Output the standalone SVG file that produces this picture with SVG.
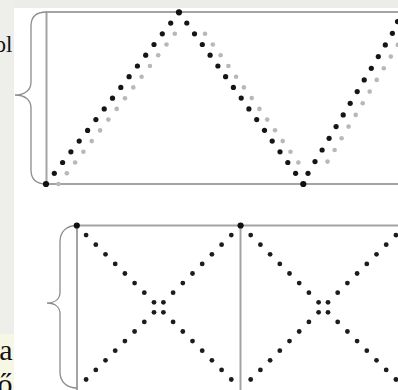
<svg xmlns="http://www.w3.org/2000/svg" width="398" height="390" viewBox="0 0 398 390">
<style>
.frame{fill:none;stroke:#a3a3a3;stroke-width:2}
.brace{fill:none;stroke:#8c8c8c;stroke-width:1.3}
.lbl{font-family:"Liberation Serif","DejaVu Serif",serif;fill:#111;text-anchor:end}
</style>
<defs>
<circle id="b" r="2.6" fill="#151515"/>
<circle id="B" r="3.1" fill="#111"/>
<circle id="g" r="2.3" fill="#b8b8b8"/>
<circle id="d" r="2.4" fill="#1c1c1c"/>
</defs>
<rect width="398" height="390" fill="#fff"/>
<rect x="0" y="0" width="398" height="8" fill="#ececE8"/>
<rect x="0" y="0" width="14" height="390" fill="#eeeeea"/>
<rect x="0" y="334" width="14" height="56" fill="#f7f7e6"/>
<g id="labels">
<text class="lbl" x="12.5" y="52" style="font-size:23px">ol</text>
<text class="lbl" x="12.5" y="360" style="font-size:30px">a</text>
<text class="lbl" x="12.5" y="394" style="font-size:30px">ő</text>
</g>
<g id="top-panel">
<path class="frame" d="M398,12H46.5V184H398"/>
<path class="brace" d="M46.5,12C37,12 31,16 31,26V82C31,90 25,95 15,95C25,95 31,100 31,108V170C31,180 37,184 46.5,184"/>
<g id="shadow-dots">
<use href="#g" x="58.5" y="184"/><use href="#g" x="66.8" y="173.3"/><use href="#g" x="75.1" y="162.5"/><use href="#g" x="83.4" y="151.8"/><use href="#g" x="91.7" y="141.1"/><use href="#g" x="100.1" y="130.4"/><use href="#g" x="108.4" y="119.6"/><use href="#g" x="116.7" y="108.9"/><use href="#g" x="125" y="98.2"/><use href="#g" x="133.3" y="87.4"/><use href="#g" x="141.6" y="76.7"/><use href="#g" x="149.9" y="66"/><use href="#g" x="158.2" y="55.2"/><use href="#g" x="166.5" y="44.5"/><use href="#g" x="174.8" y="33.8"/>
<use href="#g" x="205" y="33.8"/><use href="#g" x="212.8" y="44.5"/><use href="#g" x="220.6" y="55.2"/><use href="#g" x="228.4" y="66"/><use href="#g" x="236.1" y="76.7"/><use href="#g" x="243.9" y="87.4"/><use href="#g" x="251.7" y="98.1"/><use href="#g" x="259.4" y="108.9"/><use href="#g" x="267.2" y="119.6"/><use href="#g" x="275" y="130.3"/><use href="#g" x="282.7" y="141.1"/><use href="#g" x="290.5" y="151.8"/><use href="#g" x="298.3" y="162.5"/>
<use href="#g" x="327.5" y="161.6"/><use href="#g" x="334.6" y="150"/><use href="#g" x="341.6" y="138.3"/><use href="#g" x="348.6" y="126.6"/><use href="#g" x="355.7" y="114.9"/><use href="#g" x="362.7" y="103.3"/><use href="#g" x="369.7" y="91.6"/><use href="#g" x="376.7" y="79.9"/><use href="#g" x="383.8" y="68.3"/><use href="#g" x="390.8" y="56.6"/><use href="#g" x="397.8" y="44.9"/>
</g>
<g id="zigzag-dots">
<use href="#B" x="46" y="184"/><use href="#b" x="54.3" y="173.3"/><use href="#b" x="62.6" y="162.5"/><use href="#b" x="70.9" y="151.8"/><use href="#b" x="79.2" y="141.1"/><use href="#b" x="87.6" y="130.4"/><use href="#b" x="95.9" y="119.6"/><use href="#b" x="104.2" y="108.9"/><use href="#b" x="112.5" y="98.2"/><use href="#b" x="120.8" y="87.4"/><use href="#b" x="129.1" y="76.7"/><use href="#b" x="137.4" y="66"/><use href="#b" x="145.7" y="55.2"/><use href="#b" x="154" y="44.5"/><use href="#b" x="162.3" y="33.8"/><use href="#b" x="170.7" y="23.1"/><use href="#B" x="179" y="12.3"/>
<use href="#b" x="186.8" y="23"/><use href="#b" x="194.5" y="33.8"/><use href="#b" x="202.3" y="44.5"/><use href="#b" x="210.1" y="55.2"/><use href="#b" x="217.9" y="66"/><use href="#b" x="225.6" y="76.7"/><use href="#b" x="233.4" y="87.4"/><use href="#b" x="241.2" y="98.1"/><use href="#b" x="248.9" y="108.9"/><use href="#b" x="256.7" y="119.6"/><use href="#b" x="264.5" y="130.3"/><use href="#b" x="272.2" y="141.1"/><use href="#b" x="280" y="151.8"/><use href="#b" x="287.8" y="162.5"/><use href="#b" x="295.6" y="173.3"/><use href="#B" x="303.3" y="184"/>
<use href="#b" x="308" y="173.3"/><use href="#b" x="315" y="161.6"/><use href="#b" x="322.1" y="150"/><use href="#b" x="329.1" y="138.3"/><use href="#b" x="336.1" y="126.6"/><use href="#b" x="343.2" y="114.9"/><use href="#b" x="350.2" y="103.3"/><use href="#b" x="357.2" y="91.6"/><use href="#b" x="364.2" y="79.9"/><use href="#b" x="371.3" y="68.3"/><use href="#b" x="378.3" y="56.6"/><use href="#b" x="385.3" y="44.9"/><use href="#b" x="392.4" y="33.3"/><use href="#b" x="397.5" y="21.6"/>
</g>
</g>
<g id="bottom-panel">
<path class="frame" d="M398,225.5H77V390M240.5,225.5V390"/>
<path class="brace" d="M77,225.5C67,225.5 60,231 60,242V292C60,299 55,303 47,303C55,303 60,307 60,314V372C60,382 67,388 77,388"/>
<g id="cell-1">
<use href="#d" x="154" y="302.3"/><use href="#d" x="144.3" y="292.7"/><use href="#d" x="134.6" y="283.1"/><use href="#d" x="124.9" y="273.5"/><use href="#d" x="115.2" y="263.9"/><use href="#d" x="105.5" y="254.3"/><use href="#d" x="95.8" y="244.7"/><use href="#d" x="86.1" y="235.1"/><use href="#B" x="76.8" y="225.5"/>
<use href="#d" x="163.4" y="302.3"/><use href="#d" x="173.1" y="292.7"/><use href="#d" x="182.8" y="283.1"/><use href="#d" x="192.5" y="273.5"/><use href="#d" x="202.2" y="263.9"/><use href="#d" x="211.9" y="254.3"/><use href="#d" x="221.6" y="244.7"/><use href="#d" x="231.3" y="235.1"/><use href="#B" x="240.6" y="225.5"/>
<use href="#d" x="154" y="312.3"/><use href="#d" x="144.3" y="321.9"/><use href="#d" x="134.6" y="331.5"/><use href="#d" x="124.9" y="341.1"/><use href="#d" x="115.2" y="350.7"/><use href="#d" x="105.5" y="360.3"/><use href="#d" x="95.8" y="369.9"/><use href="#d" x="86.1" y="379.5"/>
<use href="#d" x="163.4" y="312.3"/><use href="#d" x="173.1" y="321.9"/><use href="#d" x="182.8" y="331.5"/><use href="#d" x="192.5" y="341.1"/><use href="#d" x="202.2" y="350.7"/><use href="#d" x="211.9" y="360.3"/><use href="#d" x="221.6" y="369.9"/><use href="#d" x="231.3" y="379.5"/>
</g>
<g id="cell-2">
<use href="#d" x="318.6" y="302.3"/><use href="#d" x="308.9" y="292.7"/><use href="#d" x="299.2" y="283.1"/><use href="#d" x="289.5" y="273.5"/><use href="#d" x="279.8" y="263.9"/><use href="#d" x="270.1" y="254.3"/><use href="#d" x="260.4" y="244.7"/><use href="#d" x="250.7" y="235.1"/>
<use href="#d" x="328" y="302.3"/><use href="#d" x="337.7" y="292.7"/><use href="#d" x="347.4" y="283.1"/><use href="#d" x="357.1" y="273.5"/><use href="#d" x="366.8" y="263.9"/><use href="#d" x="376.5" y="254.3"/><use href="#d" x="386.2" y="244.7"/><use href="#d" x="395.9" y="235.1"/>
<use href="#d" x="318.6" y="312.3"/><use href="#d" x="308.9" y="321.9"/><use href="#d" x="299.2" y="331.5"/><use href="#d" x="289.5" y="341.1"/><use href="#d" x="279.8" y="350.7"/><use href="#d" x="270.1" y="360.3"/><use href="#d" x="260.4" y="369.9"/><use href="#d" x="250.7" y="379.5"/>
<use href="#d" x="328" y="312.3"/><use href="#d" x="337.7" y="321.9"/><use href="#d" x="347.4" y="331.5"/><use href="#d" x="357.1" y="341.1"/><use href="#d" x="366.8" y="350.7"/><use href="#d" x="376.5" y="360.3"/><use href="#d" x="386.2" y="369.9"/><use href="#d" x="395.9" y="379.5"/>
</g>
</g>
</svg>
